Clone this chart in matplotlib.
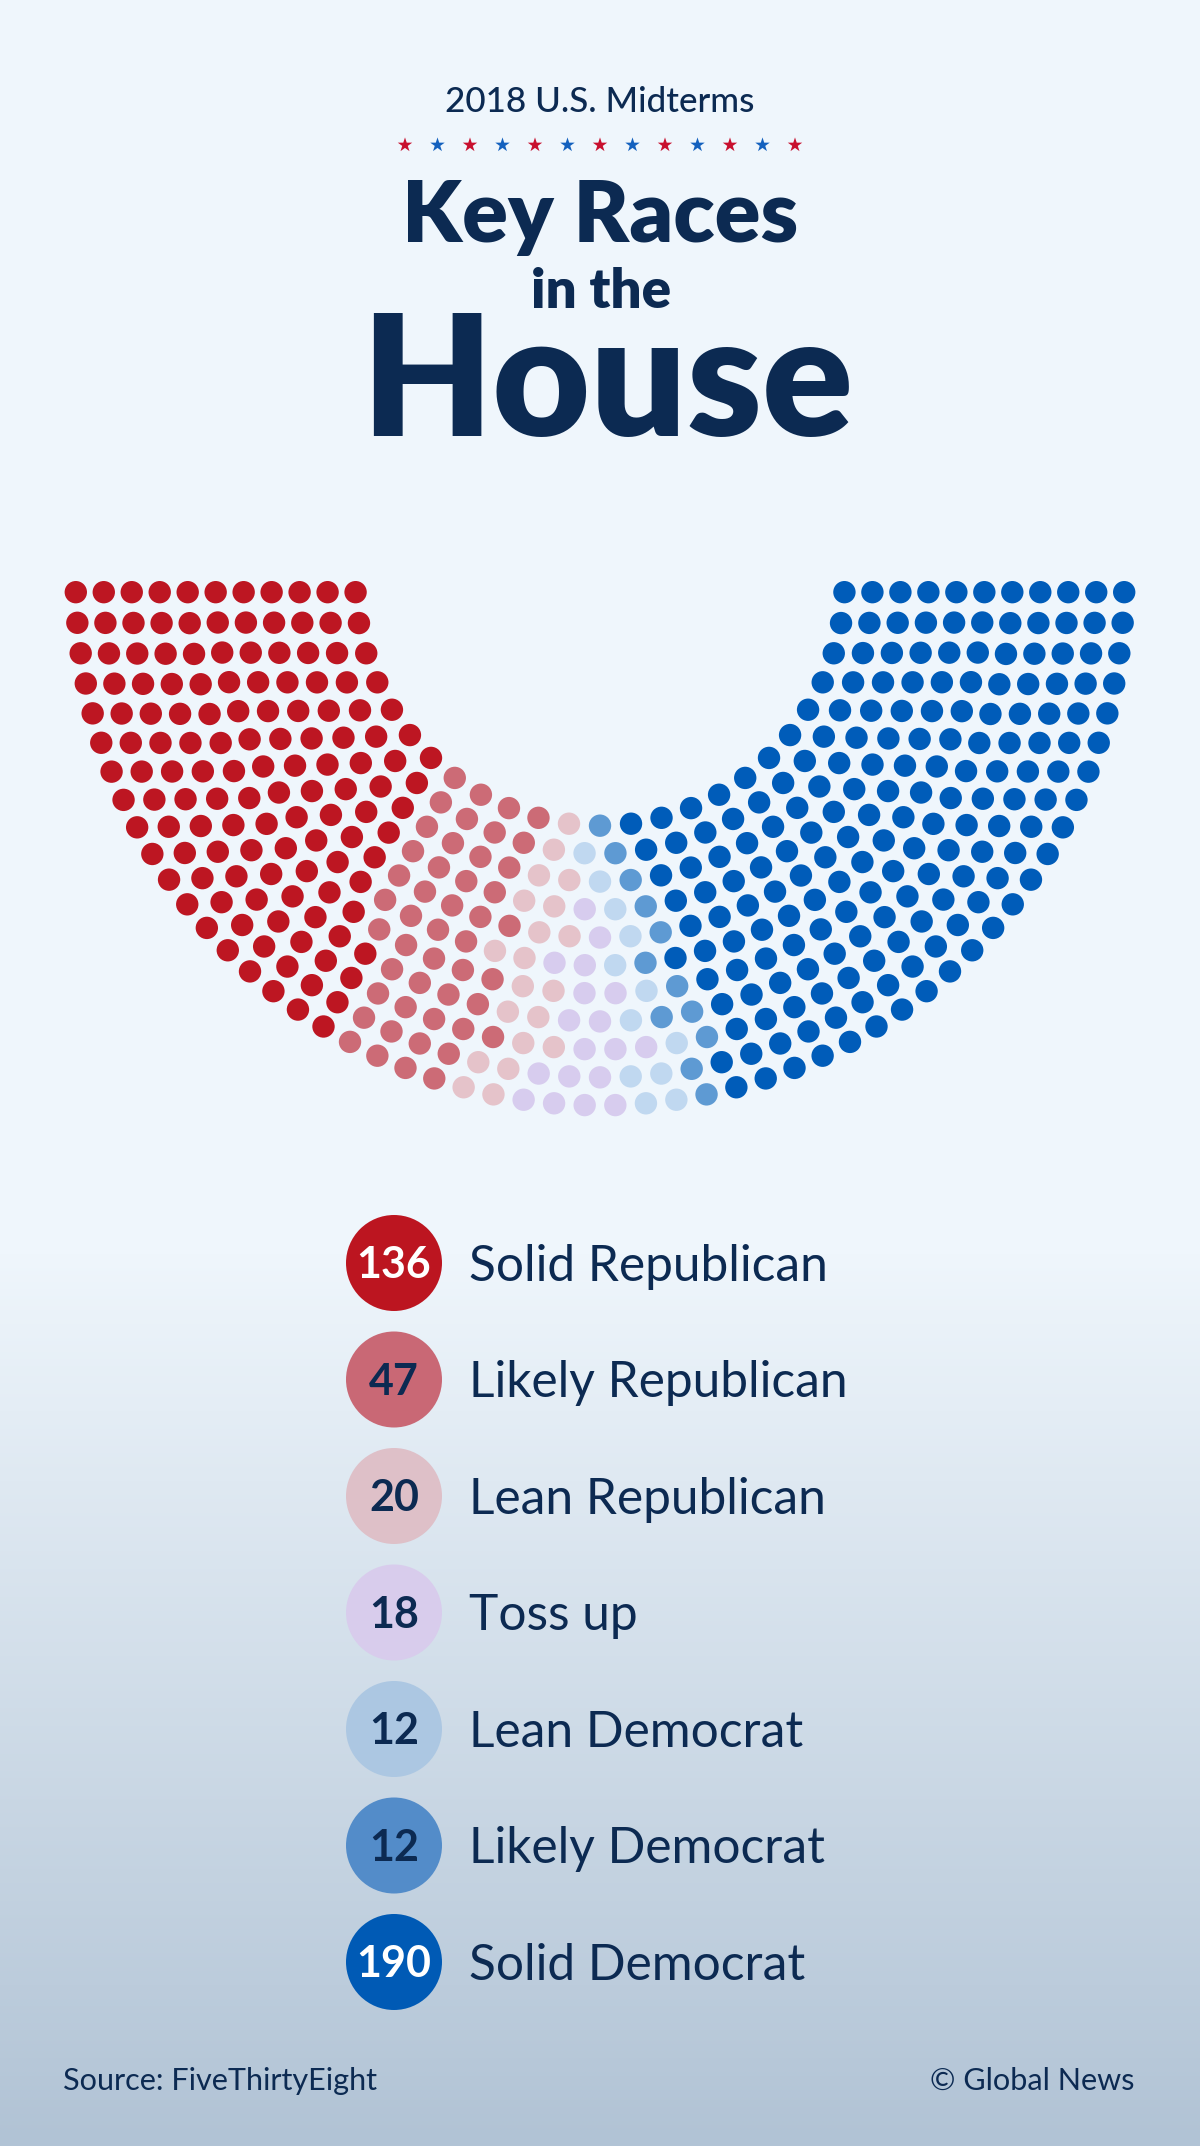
import numpy as np
import matplotlib
matplotlib.use("Agg")
import matplotlib.pyplot as plt
from matplotlib.patches import Circle
from matplotlib.colors import LinearSegmentedColormap

# FiveThirtyEight ratings, 2018 House races
categories = ["Solid Republican", "Likely Republican", "Lean Republican", "Toss up",
              "Lean Democrat", "Likely Democrat", "Solid Democrat"]
seats = [136, 47, 20, 18, 12, 12, 190]
colors = ["#BD1622", "#CC6B76", "#E5C3CA", "#D7CCEE", "#C0D8F0", "#5E9AD3", "#005CB9"]
legend_colors = ["#BC1520", "#C96875", "#DEC0C8", "#D8CCEC", "#ACC7E2", "#538CC9", "#005AB5"]
num_colors = ["white", "#0C2A52", "#0C2A52", "#0C2A52", "#0C2A52", "#0C2A52", "white"]

# seats of each rating per ring of the hemicycle, inner ring first
# (read off the graphic, left to right along each ring)
ring_counts = [
    [7, 4, 1, 0, 0, 1, 12],
    [8, 4, 1, 0, 1, 1, 13],
    [9, 4, 2, 0, 1, 1, 14],
    [10, 4, 2, 1, 1, 1, 15],
    [11, 5, 2, 1, 1, 1, 16],
    [12, 4, 2, 2, 1, 1, 18],
    [13, 5, 2, 2, 1, 1, 18],
    [15, 4, 2, 2, 1, 2, 19],
    [16, 5, 2, 3, 1, 1, 20],
    [17, 4, 2, 3, 2, 1, 22],
    [18, 4, 2, 4, 2, 1, 23],
]

NAVY = "#0C2A52"
W, H = 1200, 2146

plt.rcParams['font.family'] = ['Lato', 'DejaVu Sans']

fig = plt.figure(figsize=(W / 100, H / 100), dpi=100)
ax = fig.add_axes([0, 0, 1, 1])

# background: flat at top, fading to grey-blue at the bottom
grad = np.clip((np.arange(H) - 1250) / (H - 1250), 0, 1)[:, None]
bg = LinearSegmentedColormap.from_list('bg', ['#EFF6FC', '#B1C3D5'])
ax.imshow(grad, cmap=bg, extent=[0, W, H, 0], aspect='auto', zorder=0)
ax.set_xlim(0, W)
ax.set_ylim(H, 0)
ax.axis('off')

renderer = fig.canvas.get_renderer()


def fit_width(t, target):
    bb = t.get_window_extent(renderer)
    t.set_fontsize(t.get_fontsize() * target / bb.width)
    return t.get_fontsize()


# ---- title block
t = ax.text(600, 112, "2018 U.S. Midterms", ha='center', va='baseline',
            fontsize=26, weight='medium', color=NAVY)
fit_width(t, 310)

star_x = np.linspace(405, 795, 13)
star_c = ["#C8102E" if i % 2 == 0 else "#1461BE" for i in range(13)]
ax.scatter(star_x, np.full(13, 145), marker='*', s=120, c=star_c, lw=0, zorder=3)

t = ax.text(600, 242, "Key Races", ha='center', va='baseline',
            fontsize=65, weight='heavy', color=NAVY)
fit_width(t, 396)
t = ax.text(601, 308, "in the", ha='center', va='baseline',
            fontsize=40, weight='heavy', color=NAVY)
fit_width(t, 140)
t = ax.text(607, 436, "House", ha='center', va='baseline',
            fontsize=118, weight='heavy', color=NAVY)
fit_width(t, 492)

# ---- hemicycle (Richfield parliament layout)
TOTALS = [3, 15, 33, 61, 95, 138, 189, 247, 313, 388, 469, 559, 657]


def hemicycle(n):
    rows = next(i + 1 for i, tt in enumerate(TOTALS) if tt >= n)
    rad = 0.4 / rows
    rings = []
    used = 0
    for i in range(1, rows + 1):
        R = (3 * rows + 4 * i - 2) / (4 * rows)
        if i < rows:
            J = int(n / TOTALS[rows - 1] * np.pi / (2 * np.arcsin(2 / (3 * rows + 4 * i - 2))))
        else:
            J = n - used
        used += J
        off = np.sin(rad / R)
        a = off + np.arange(J) * (np.pi - 2 * off) / (J - 1)
        a = a[::-1]          # left end first
        rings.append((R * np.cos(a), -R * np.sin(a)))
    return rings, rad


SCALE = 307.6   # px per unit
CX, CY = 600, 581
top_px, bot_px = 540, 1140
ax2 = fig.add_axes([0, 1 - bot_px / H, 1, (bot_px - top_px) / H])
ax2.set_xlim(-CX / SCALE, (W - CX) / SCALE)
ax2.set_ylim(-(bot_px - CY) / SCALE, (CY - top_px) / SCALE)
ax2.axis('off')
ax2.patch.set_alpha(0)

rings, rad = hemicycle(sum(seats))
for (xs, ys), cnt in zip(rings, ring_counts):
    party = np.repeat(np.arange(len(cnt)), cnt)
    for x, y, k in zip(xs, ys, party):
        ax2.add_patch(Circle((x, y), rad, facecolor=colors[k], lw=0))

# ---- legend
leg_y = 1263 + 116.5 * np.arange(len(seats))
lab_fs = None
num_fs = None
for k, (cat, n) in enumerate(zip(categories, seats)):
    y = leg_y[k]
    ax.add_patch(Circle((394, y), 48, facecolor=legend_colors[k], lw=0, zorder=3))
    tn = ax.text(394, y, str(n), ha='center', va='baseline', fontsize=32,
                 weight='bold', color=num_colors[k], zorder=4)
    tl = ax.text(469, y, cat, ha='left', va='baseline', fontsize=37,
                 color=NAVY, zorder=4)
    if k == 0:
        num_fs = fit_width(tn, 75)
        lab_fs = fit_width(tl, 359)
    tn.set_fontsize(num_fs)
    tl.set_fontsize(lab_fs)
    tn.set_y(y + 0.7165 * num_fs * 100 / 72 / 2)
    tl.set_y(y + 0.7165 * lab_fs * 100 / 72 / 2)

# ---- footer
t = ax.text(63, 2090, "Source: FiveThirtyEight", ha='left', va='baseline',
            fontsize=20, color=NAVY)
fs = fit_width(t, 315)
ax.text(1135, 2090, "\u00a9 Global News", ha='right', va='baseline',
        fontsize=fs, color=NAVY)

fig.savefig("out.png", dpi=100)
